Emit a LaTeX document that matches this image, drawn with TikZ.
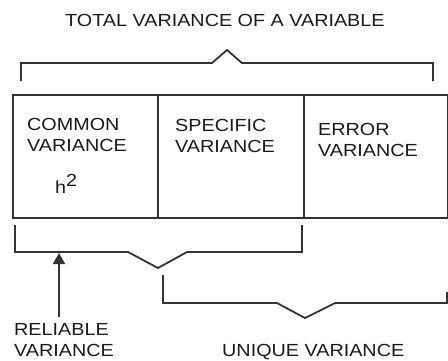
\documentclass[tikz,border=0pt]{standalone}
\usepackage{fontspec}
\setmainfont{Liberation Sans}[FakeStretch=1.13]
\usetikzlibrary{arrows.meta}
\definecolor{ink}{HTML}{333333}
\definecolor{txt}{HTML}{1A1A1A}
\begin{document}
\begin{tikzpicture}[x=1pt,y=-1pt,
  line/.style={draw=ink,line width=1.8pt},
  lbl/.style={inner sep=0pt,anchor=base west,align=left,text=txt,
    font=\fontsize{17.5}{21}\selectfont},
  cell/.style={draw=ink,line width=1.8pt,minimum height=123pt,inner sep=0pt,anchor=north west}]
\useasboundingbox (0,0) rectangle (448,360);
% title
\node[lbl] (title) at (65,26.7) {TOTAL VARIANCE OF A VARIABLE};
% cells
\node[cell,minimum width=145pt] (common) at (12,94) {};
\node[cell,minimum width=146pt] (specific) at (157,94) {};
\node[cell,minimum width=144pt] (error) at (303,94) {};
% cell labels (base anchor = last line baseline)
\node[lbl] (tcommon) at (27,151.7) {COMMON\\VARIANCE};
\node[lbl] (th) at (55,193) {h\raisebox{6.5pt}{2}};
\node[lbl] (tspecific) at (175,152.7) {SPECIFIC\\VARIANCE};
\node[lbl] (terror) at (318,156) {ERROR\\VARIANCE};
% bottom labels
\node[lbl] (reliable) at (14,356.7) {RELIABLE\\VARIANCE};
\node[lbl] (unique) at (222,356.7) {UNIQUE VARIANCE};
% top bracket
\draw[line] (21,81) -- (21,63) -- (212,63) -- (227,50) -- (242,63) -- (433,63) -- (433,81);
% common+specific bracket
\draw[line] (15,225) -- (15,252) -- (128,252) -- (158,268) -- (187,252) -- (302,252) -- (302,225);
% specific+error bracket
\draw[line] (163,275) -- (163,303) -- (277,303) -- (305,318) -- (335,303) -- (447,303) -- (447,292);
% arrow
\coordinate (atip) at (59,253);
\coordinate (abase) at (59,317);
\draw[line,-{Triangle[width=12pt,length=11pt]}] (abase) -- (atip);
\end{tikzpicture}
\end{document}
